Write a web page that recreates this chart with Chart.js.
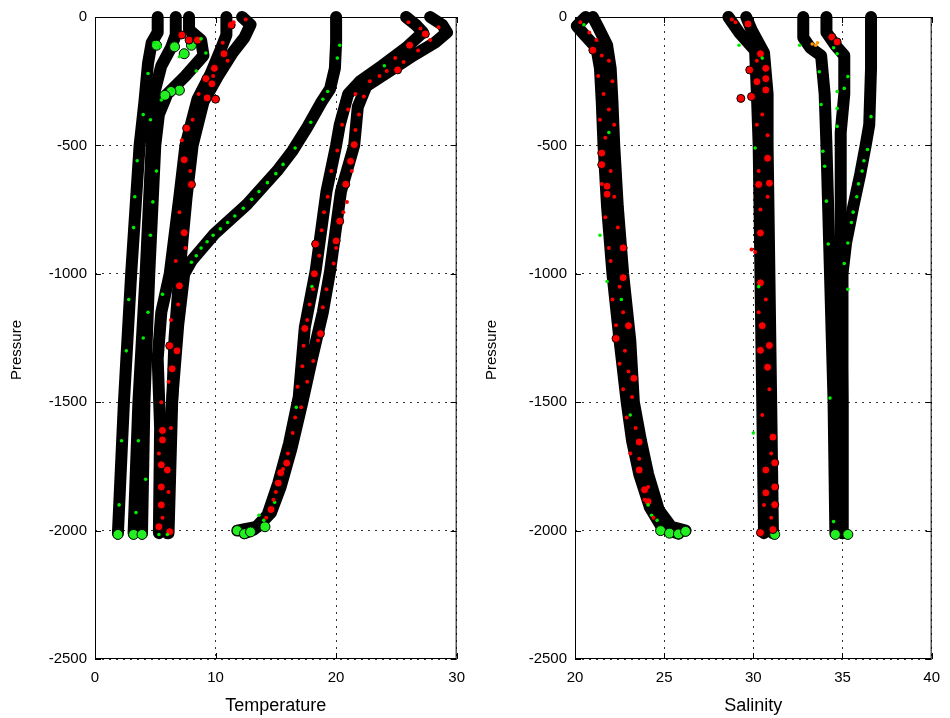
<!DOCTYPE html>
<html>
<head>
<meta charset="UTF-8">
<title>Temperature and Salinity profiles</title>
<script src="https://cdn.jsdelivr.net/npm/chart.js"></script>
<style>
  body { margin: 0; background: #fff; }
  canvas { position: absolute; top: 0; }
  #tempChart { left: 0; }
  #salChart { left: 475px; }
</style>
</head>
<body>
<canvas id="tempChart" width="475" height="718"></canvas>
<canvas id="salChart" width="475" height="718"></canvas>
<script>
// ---- temperature profiles: [temperature, pressure] ----
const tProf1 = [[5.2,0],[5.2,-60],[4.7,-100],[4.4,-180],[4.1,-330],[3.7,-500],[3.0,-1000],[2.4,-1500],[1.9,-2010]];
const tProf2 = [[6.7,0],[6.7,-70],[6.3,-120],[5.5,-190],[4.9,-300],[4.7,-500],[4.2,-1000],[3.6,-1500],[3.2,-2010]];
const tProf3 = [[7.8,0],[7.8,-50],[8.8,-90],[9.0,-150],[7.5,-230],[6.0,-300],[5.3,-380],[5.0,-500],[4.5,-1000],[4.1,-1500],[3.9,-2010]];
const tProf4 = [[10.9,0],[10.9,-70],[10.4,-130],[9.6,-220],[8.5,-320],[7.5,-500],[7.0,-700],[6.2,-1000],[5.5,-1150],[5.2,-1330],[5.4,-1600],[5.3,-2010]];
const tProf5 = [[12.2,0],[12.9,-30],[12.4,-80],[11.4,-140],[10.2,-230],[9.0,-330],[8.1,-500],[7.6,-700],[7.0,-1000],[6.6,-1250],[6.4,-1500],[6.1,-2010]];
const tProf6 = [[20.0,0],[20.0,-100],[19.9,-200],[19.5,-280],[18.8,-330],[17.6,-430],[16.4,-520],[15.1,-600],[12.6,-730],[9.9,-845],[8.0,-950],[7.4,-1000],[6.9,-1200],[6.3,-1550],[6.0,-2010]];
const tProf7 = [[25.8,0],[26.6,-30],[27.2,-60],[25.8,-120],[23.8,-190],[22.0,-250],[21.0,-300],[20.3,-420],[20.0,-500],[19.2,-680],[18.3,-990],[17.4,-1210],[16.9,-1480],[16.1,-1660],[15.2,-1815],[14.3,-1940],[13.2,-1995],[12.4,-2010]];
const tProf8 = [[27.8,0],[28.8,-30],[29.2,-60],[28.2,-100],[26.4,-150],[24.8,-200],[22.5,-270],[21.8,-350],[21.5,-500],[20.4,-680],[19.5,-990],[18.9,-1150],[18.0,-1330],[17.2,-1500],[16.3,-1680],[15.4,-1830],[14.6,-1930],[13.5,-1985],[11.8,-2000]];

// flagged temperature samples
const tRedBig = [[7.2,-70],[7.8,-90],[8.5,-90],[11.3,-31],[10.7,-143],[9.9,-200],[9.2,-240],[9.7,-260],[9.3,-315],[10.0,-320],
  [7.6,-433],[7.4,-556],[8.0,-652],[7.4,-840],[7.0,-1047],[6.8,-1300],[6.2,-1280],[6.4,-1370],[5.6,-1610],[5.6,-1647],
  [5.5,-1744],[6.0,-1764],[5.5,-1830],[5.5,-1900],[6.2,-2004],[5.3,-1985],
  [27.4,-66],[26.1,-110],[25.1,-206],[21.5,-497],[21.2,-562],[20.8,-651],[20.3,-795],[20.0,-872],[18.3,-884],[18.2,-1000],
  [18.7,-1233],[17.4,-1213],[15.9,-1737],[15.4,-1775],[15.2,-1815],[14.6,-1918]];
const tRedSmall = [[26.0,-20],[27.0,-45],[28.5,-40],[27.8,-90],[26.8,-130],[24.9,-160],[25.6,-175],[23.6,-230],[24.2,-210],[22.8,-250],
  [21.6,-300],[22.3,-310],[21.0,-360],[21.9,-380],[20.5,-420],[21.6,-440],[20.1,-520],[21.3,-600],[19.6,-600],[20.9,-720],
  [19.3,-700],[19.0,-760],[20.6,-760],[18.8,-830],[20.0,-900],[18.6,-930],[19.8,-960],[18.1,-1060],[19.2,-1060],[17.8,-1120],
  [18.9,-1130],[17.6,-1180],[18.5,-1260],[17.3,-1280],[18.1,-1340],[17.2,-1360],[17.6,-1420],[16.8,-1440],[17.1,-1520],[16.6,-1560],
  [16.4,-1620],[16.0,-1700],[15.6,-1760],[15.0,-1850],[14.8,-1880],[14.2,-1950],
  [11.5,-20],[12.5,-10],[10.6,-100],[11.0,-170],[9.8,-230],[8.6,-300],[8.1,-400],[7.2,-480],[7.9,-600],[7.0,-760],
  [7.5,-900],[6.7,-950],[6.9,-1120],[6.3,-1180],[6.1,-1420],[5.5,-1500],[6.3,-1600],[5.3,-1700],[6.1,-1850],[5.6,-1950]];
const tGreenBig = [[1.9,-2015],[3.2,-2015],[3.9,-2015],[11.8,-2000],[12.4,-2012],[12.9,-2005],[14.1,-1985],
  [5.1,-110],[6.6,-116],[7.4,-143],[8.0,-110],[7.0,-285],[6.3,-290],[5.8,-305]];
const tGreenSmall = [[4.9,-100],[5.4,-115],[7.0,-155],[8.8,-85],[9.2,-140],[8.4,-210],[6.4,-284],[5.5,-323],[4.4,-220],[4.0,-380],
  [4.6,-400],[3.5,-560],[5.1,-600],[3.3,-700],[4.8,-720],[3.2,-820],[4.6,-850],[2.8,-1100],[4.4,-1150],[2.6,-1300],
  [4.0,-1250],[5.6,-1080],[2.2,-1650],[3.6,-1650],[4.2,-1800],[2.0,-1900],[3.4,-1930],[5.3,-2015],[6.0,-2015],
  [20.3,-110],[20.1,-160],[19.3,-290],[18.9,-320],[17.9,-410],[16.6,-510],[15.6,-574],[15.0,-610],[14.3,-645],[13.6,-680],
  [13.0,-710],[12.3,-745],[11.6,-775],[11.0,-800],[10.4,-825],[9.8,-850],[9.3,-875],[8.8,-900],[8.4,-930],[8.0,-955],
  [24.0,-190],[18.0,-1050],[16.7,-1520],[14.9,-1890],[13.6,-1940],[14.0,-1960]];

// ---- salinity profiles: [salinity, pressure] ----
const sProf1 = [[20.6,0],[20.1,-35],[20.6,-75],[21.2,-120],[21.4,-200],[21.5,-330],[21.6,-500],[21.8,-740],[22.1,-1000],[22.5,-1260],[22.9,-1500],[23.2,-1650],[23.6,-1780],[24.2,-1910],[24.9,-1990],[25.8,-2012]];
const sProf2 = [[21.0,0],[21.3,-40],[21.8,-110],[22.0,-200],[22.1,-330],[22.2,-500],[22.4,-740],[22.7,-1000],[23.1,-1260],[23.3,-1500],[23.7,-1650],[24.1,-1780],[24.7,-1920],[25.4,-1985],[26.2,-2000]];
const sProf3 = [[28.6,0],[29.2,-60],[30.1,-130],[30.2,-300],[30.3,-500],[30.4,-1000],[30.5,-1500],[30.6,-2010]];
const sProf4 = [[29.6,0],[29.9,-50],[30.6,-140],[30.8,-300],[30.8,-500],[30.9,-1000],[31.0,-1500],[31.1,-2010]];
const sProf5 = [[32.8,0],[32.8,-80],[33.2,-120],[33.8,-150],[34.0,-300],[34.1,-500],[34.3,-1000],[34.5,-1500],[34.6,-2010]];
const sProf6 = [[34.1,0],[34.1,-60],[34.6,-110],[35.1,-150],[35.1,-300],[34.9,-450],[34.9,-1000],[35.0,-1500],[35.0,-2010]];
const sProf7 = [[36.6,0],[36.6,-200],[36.5,-420],[36.3,-500],[36.0,-610],[35.6,-740],[35.2,-880],[35.0,-1000],[35.0,-1500],[35.0,-2010]];

const sRedBig = [[21.0,-129],[21.5,-530],[21.5,-575],[21.8,-659],[21.8,-690],[22.7,-899],[22.7,-1015],[22.3,-1252],[23.0,-1202],[23.3,-1407],
  [23.6,-1655],[23.6,-1764],[23.9,-1841],[24.1,-1887],
  [29.7,-27],[30.4,-143],[30.7,-200],[29.8,-206],[30.2,-252],[30.7,-240],[30.7,-284],[29.3,-317],[29.9,-310],[30.8,-550],
  [30.3,-652],[30.9,-647],[30.4,-841],[30.4,-1035],[30.5,-1202],[30.4,-1298],[30.9,-1279],[30.8,-1364],[31.1,-1636],[31.2,-1736],
  [30.7,-1764],[31.2,-1830],[30.7,-1853],[31.2,-1899],[30.4,-2008],[31.1,-1996],[34.4,-78],[34.7,-97]];
const sRedSmall = [[20.3,-20],[20.8,-60],[21.2,-90],[21.5,-150],[21.9,-170],[21.3,-230],[22.1,-250],[21.6,-300],[21.9,-360],[21.4,-400],
  [22.2,-420],[21.7,-470],[22.0,-600],[21.5,-650],[22.2,-700],[21.7,-780],[22.4,-820],[21.9,-900],[22.0,-950],[22.5,-1050],
  [22.1,-1100],[22.7,-1150],[22.3,-1200],[22.8,-1300],[22.5,-1350],[23.0,-1380],[22.7,-1450],[23.2,-1480],[22.9,-1560],[23.4,-1600],
  [23.1,-1700],[23.6,-1720],[24.1,-1830],[23.9,-1880],[24.4,-1950],
  [29.0,-20],[28.8,-10],[30.2,-170],[30.5,-380],[30.2,-420],[30.8,-460],[30.3,-600],[30.8,-700],[30.4,-750],[29.9,-905],
  [30.1,-915],[30.7,-1100],[30.3,-1150],[30.9,-1450],[30.5,-1550],[31.0,-1700],[30.6,-1900],[31.0,-1950]];
const sGreenBig = [[24.8,-2000],[25.3,-2010],[25.8,-2013],[26.2,-2003],[31.2,-2015],[34.6,-2015],[35.3,-2015]];
const sGreenSmall = [[20.5,-30],[29.2,-110],[30.5,-160],[32.6,-110],[34.7,-143],[34.5,-120],[21.9,-450],[21.4,-850],[21.8,-1030],[22.6,-1100],
  [23.1,-1550],[24.1,-1900],[24.3,-1940],[24.6,-1960],[33.9,-523],[34.0,-581],[34.1,-717],[34.2,-884],[34.3,-1484],[34.5,-1965],
  [35.3,-232],[35.1,-278],[34.7,-290],[33.7,-213],[33.8,-341],[34.7,-356],[34.7,-426],[36.6,-388],[36.4,-516],[36.2,-560],
  [36.1,-600],[35.9,-650],[35.8,-700],[35.6,-760],[35.5,-800],[35.3,-880],[35.1,-960],[35.3,-1060],[30.1,-510],[30.3,-1050],[30.0,-1620]];
const sOrange = [[33.5,-110],[33.6,-100],[33.3,-105]];

const pressTicks = { min: -2500, max: 0, step: 500 };

function xy(pairs) {
    return pairs.map(p => ({ x: p[0], y: p[1] }));
}

function profileSet(pairs) {
    return {
        data: xy(pairs), showLine: true, borderColor: '#000', borderWidth: 12,
        borderJoinStyle: 'round', borderCapStyle: 'round', pointRadius: 0,
        order: 2, clip: false
    };
}

function markSet(pairs, color, r, edge) {
    return {
        data: xy(pairs), showLine: false, pointRadius: r, pointHoverRadius: r,
        pointBackgroundColor: color, pointBorderColor: '#000', pointBorderWidth: edge,
        order: 1, clip: false
    };
}

const labelFamily = "'Liberation Sans', Arial, sans-serif";

// matlab-like box with inward ticks, plus the rotated y label
const boxPlugin = {
    id: 'box',
    beforeDatasetsDraw(chart) {
        const { ctx, chartArea: a, scales: { x, y } } = chart;
        ctx.save();
        ctx.strokeStyle = '#000';
        ctx.lineWidth = 1;
        ctx.beginPath();
        x.ticks.forEach(t => {
            const px = Math.round(x.getPixelForValue(t.value)) + 0.5;
            ctx.moveTo(px, a.bottom); ctx.lineTo(px, a.bottom - 6);
            ctx.moveTo(px, a.top); ctx.lineTo(px, a.top + 6);
        });
        y.ticks.forEach(t => {
            const py = Math.round(y.getPixelForValue(t.value)) + 0.5;
            ctx.moveTo(a.left, py); ctx.lineTo(a.left + 6, py);
            ctx.moveTo(a.right, py); ctx.lineTo(a.right - 6, py);
        });
        ctx.stroke();
        ctx.strokeRect(a.left + 0.5, a.top + 0.5, a.right - a.left - 1, a.bottom - a.top - 1);

        // y label, sits a bit below the axis middle like the original
        ctx.translate(a.left - (chart.options.yLabelGap || 78), 350);
        ctx.rotate(-Math.PI / 2);
        ctx.fillStyle = '#000';
        ctx.font = '15px ' + labelFamily;
        ctx.textAlign = 'center';
        ctx.textBaseline = 'middle';
        ctx.fillText('Pressure', 0, 0);
        ctx.restore();
    }
};

const tickFont = { family: labelFamily, size: 15 };

function makeChart(id, datasets, xr, xLabel, yWidth, padRight) {
    return new Chart(document.getElementById(id), {
        type: 'scatter',
        data: { datasets: datasets },
        plugins: [boxPlugin],
        options: {
            responsive: false,
            animation: false,
            devicePixelRatio: 1,
            yLabelGap: yWidth - 17,
            layout: { padding: { left: 0, top: 15, right: padRight, bottom: 0 } },
            plugins: { legend: { display: false }, tooltip: { enabled: false } },
            scales: {
                x: {
                    type: 'linear', min: xr[0], max: xr[1],
                    afterFit: s => { s.height = 59; },
                    ticks: { stepSize: xr[2], font: tickFont, color: '#000', padding: 10, maxRotation: 0 },
                    grid: { color: '#333', lineWidth: 1, drawTicks: false },
                    border: { display: false, dash: [2, 5] },
                    title: { display: true, text: xLabel, color: '#000', padding: { top: 0, bottom: 1 },
                             font: { family: labelFamily, size: 18 } }
                },
                y: {
                    type: 'linear', min: pressTicks.min, max: pressTicks.max,
                    afterFit: s => { s.width = yWidth; },
                    ticks: { stepSize: pressTicks.step, font: tickFont, color: '#000', padding: 8,
                             autoSkip: false, callback: v => String(v) },
                    grid: { color: '#333', lineWidth: 1, drawTicks: false },
                    border: { display: false, dash: [2, 5] }
                }
            }
        }
    });
}

const tempSets = [tProf1, tProf2, tProf3, tProf4, tProf5, tProf6, tProf7, tProf8].map(profileSet).concat([
    markSet(tRedSmall, '#ff0000', 2, 0),
    markSet(tGreenSmall, '#00ee00', 1.8, 0),
    markSet(tRedBig, '#ff0000', 4, 1),
    markSet(tGreenBig, '#22ee22', 5, 1)
]);

const salSets = [sProf1, sProf2, sProf3, sProf4, sProf5, sProf6, sProf7].map(profileSet).concat([
    markSet(sRedSmall, '#ff0000', 2, 0),
    markSet(sGreenSmall, '#00ee00', 1.8, 0),
    markSet(sOrange, '#ff9900', 1.8, 0),
    markSet(sRedBig, '#ff0000', 4, 1),
    markSet(sGreenBig, '#22ee22', 5, 1)
]);

makeChart('tempChart', tempSets, [0, 30, 10], 'Temperature', 95, 15);
makeChart('salChart', salSets, [20, 40, 5], 'Salinity', 100, 11);
</script>
</body>
</html>
